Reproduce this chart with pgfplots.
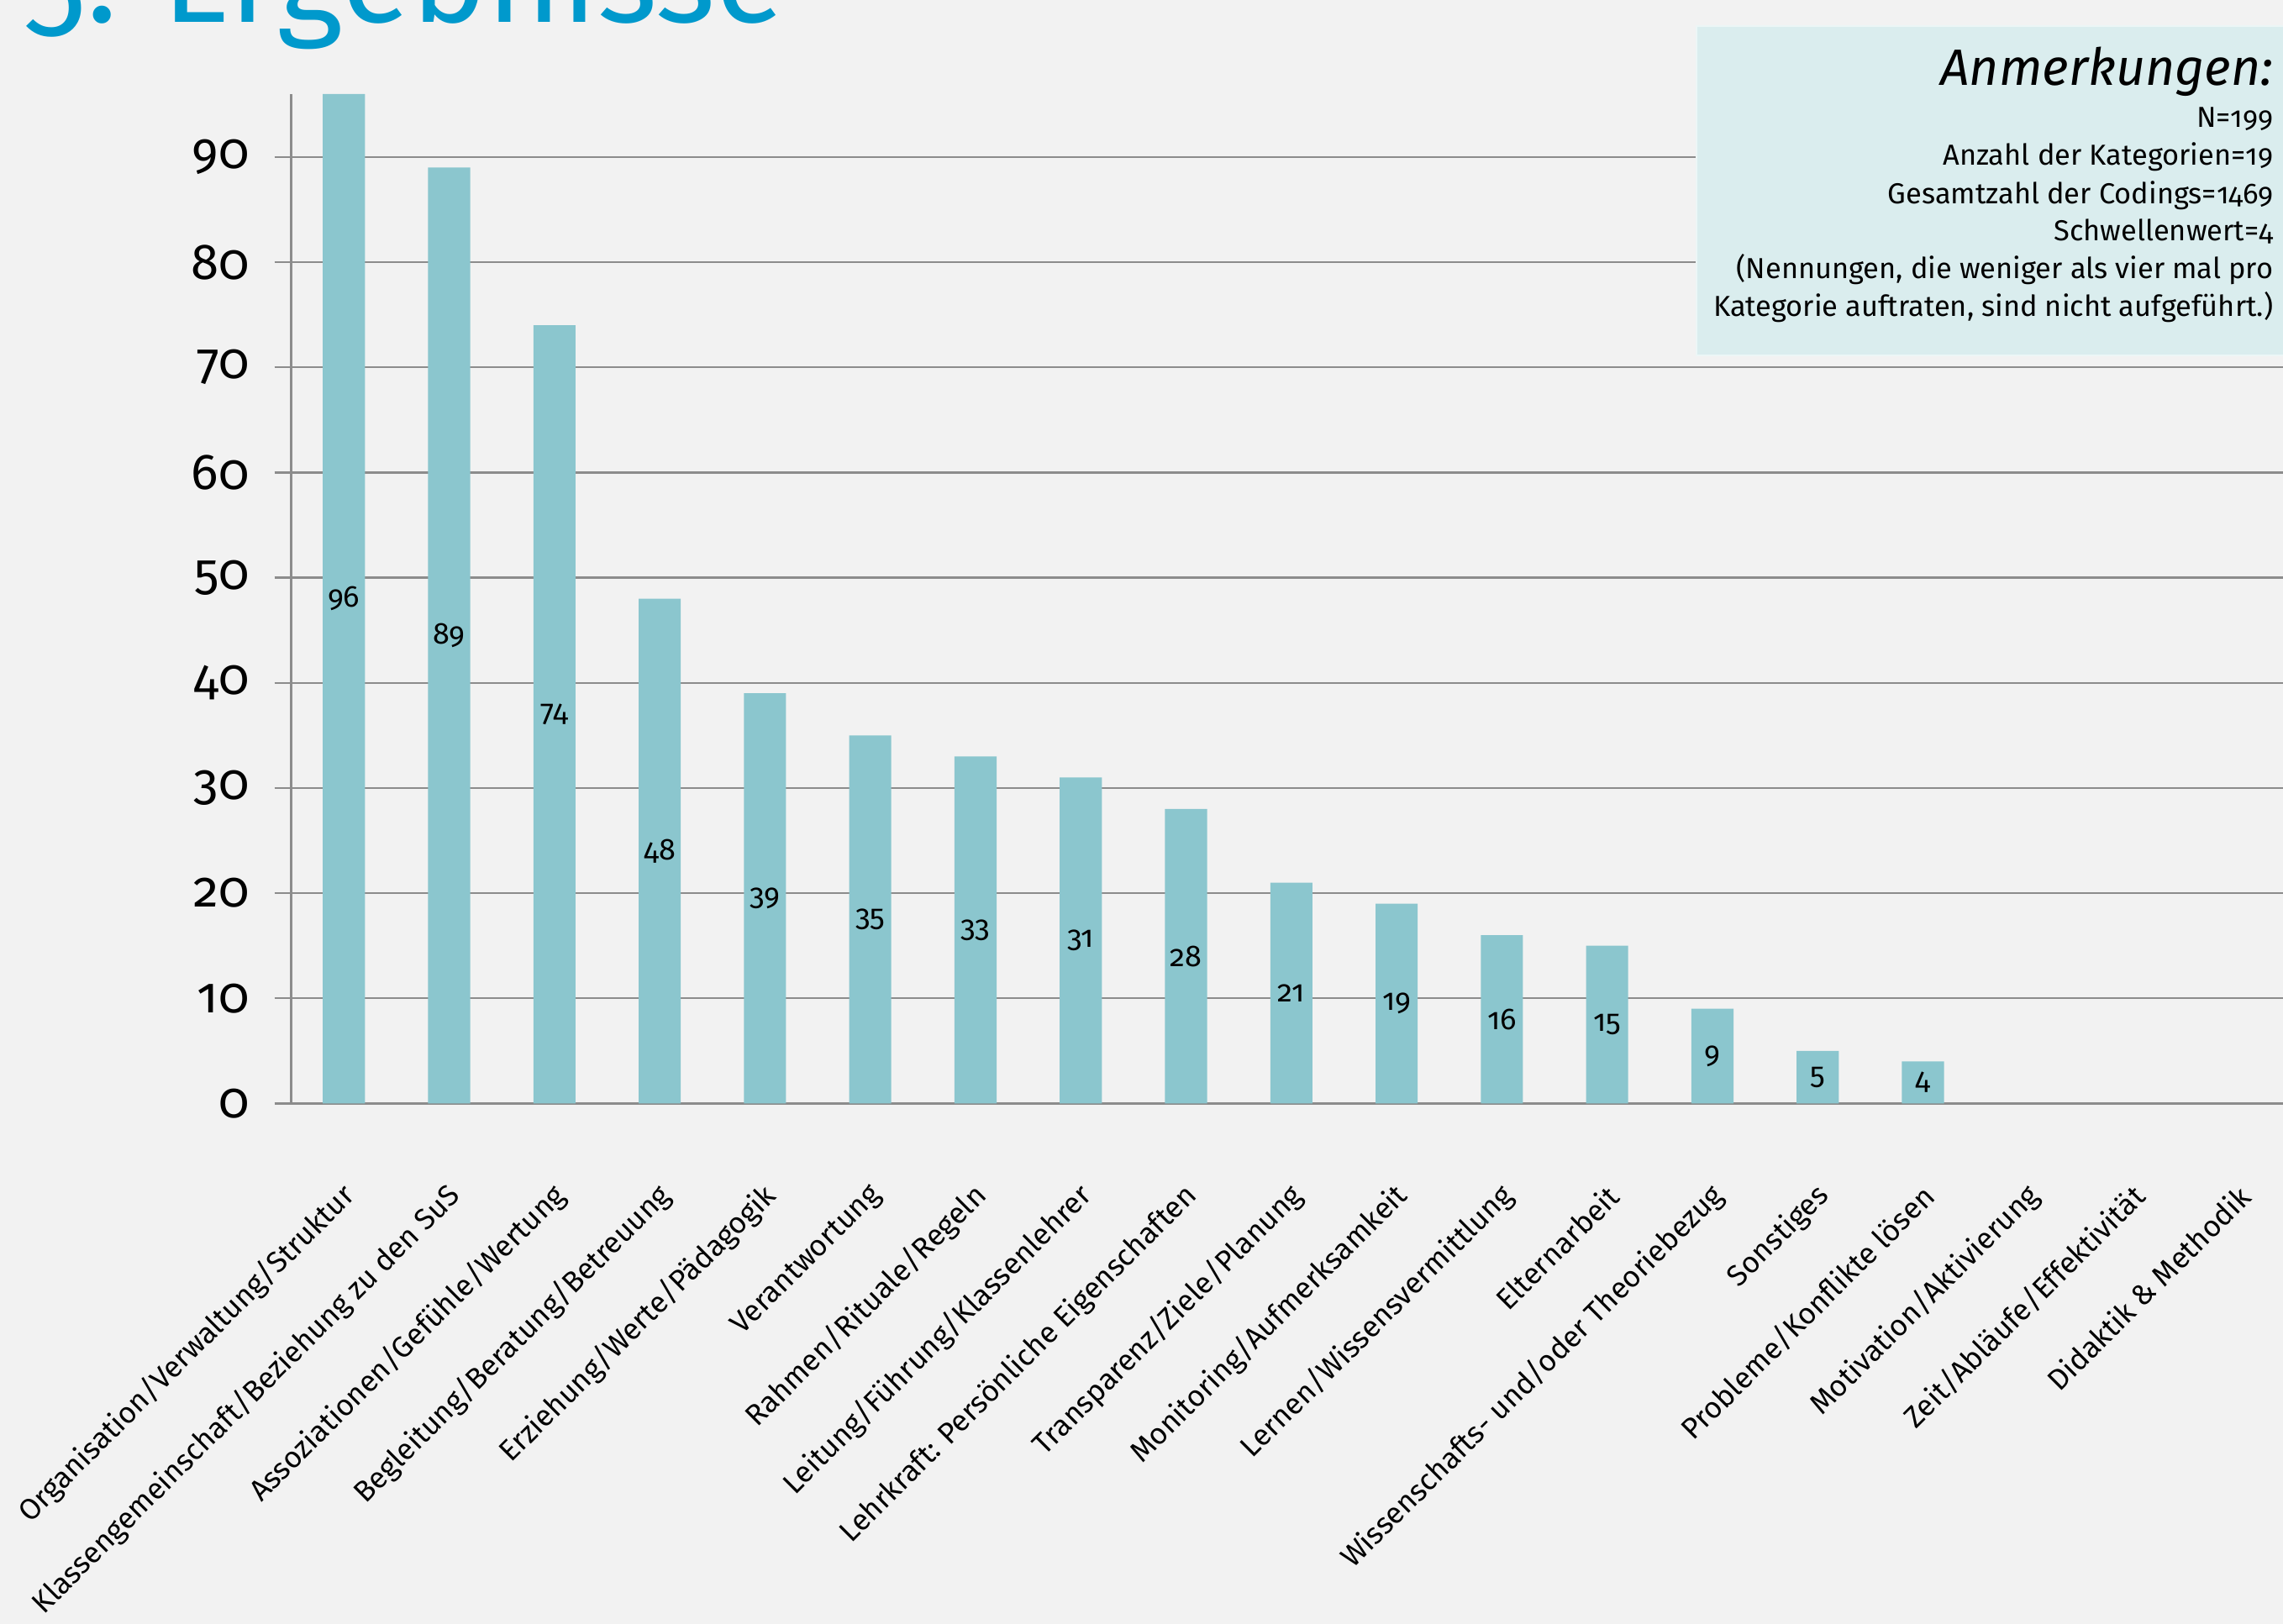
\documentclass[border=0pt]{standalone}
\usepackage{fontspec}
\setmainfont{Fira Sans}[Numbers=OldStyle]
\usepackage{pgfplots}
\usepackage{pgfplotstable}
\pgfplotsset{compat=1.18}
\definecolor{bg}{HTML}{F2F2F2}
\definecolor{barc}{HTML}{8BC6CE}
\definecolor{boxc}{HTML}{DAEDEE}
\definecolor{titlec}{HTML}{0099CC}
\definecolor{gridc}{HTML}{8C8C8C}

\pgfplotstableread{
x y
1 96
2 89
3 74
4 48
5 39
6 35
7 33
8 31
9 28
10 21
11 19
12 16
13 15
14 9
15 5
16 4
}\datatable

\begin{document}
\begin{tikzpicture}
\path[use as bounding box] (0,0) rectangle (679.25pt,483.25pt);
\clip (0,0) rectangle (679.25pt,483.25pt);
\fill[bg] (0,0) rectangle (679.25pt,483.25pt);
\begin{axis}[
  at={(86.65pt,154.9pt)}, anchor=south west,
  scale only axis, width=592.6pt, height=300.4pt,
  xmin=0.5, xmax=19.42, ymin=0, ymax=96,
  clip=false,
  axis x line*=bottom, axis y line*=left,
  axis line style={gridc, line width=0.8pt, -},
  /pgf/number format/assume math mode=true,
  ytick={0,10,...,90},
  ymajorgrids, grid style={gridc, line width=0.6pt},
  tick align=outside, major tick length=5pt,
  ytick style={gridc, line width=0.6pt},
  yticklabel style={font=\fontsize{15}{17}\selectfont, xshift=-4pt},
  xtick={1,...,19},
  xtick style={draw=none},
  xticklabels={Organisation/Verwaltung/Struktur,
    Klassengemeinschaft/Beziehung zu den SuS,
    Assoziationen/Gefühle/Wertung,
    Begleitung/Beratung/Betreuung,
    Erziehung/Werte/Pädagogik,
    Verantwortung,
    Rahmen/Rituale/Regeln,
    Leitung/Führung/Klassenlehrer,
    Lehrkraft: Persönliche Eigenschaften,
    Transparenz/Ziele/Planung,
    Monitoring/Aufmerksamkeit,
    Lernen/Wissensvermittlung,
    Elternarbeit,
    Wissenschafts- und/oder Theoriebezug,
    Sonstiges,
    Probleme/Konflikte lösen,
    Motivation/Aktivierung,
    Zeit/Abläufe/Effektivität,
    Didaktik \& Methodik},
  x tick label style={font=\fontsize{8.8}{10.5}\selectfont, xshift=2pt, yshift=-21pt, rotate=45, anchor=east, inner sep=0pt},
  extra x ticks={0.5,1.5,...,18.5},
  extra x tick labels={},
  extra x tick style={grid=none, tick style={draw=gridc, line width=0.6pt}},
]
\addplot[ybar, bar width=0.4, bar shift=0pt, fill=barc, draw=none] table[x=x, y=y] \datatable;
\addplot[draw=none, mark=none, nodes near coords, point meta=explicit,
  every node near coord/.append style={anchor=center, font=\fontsize{9}{10}\selectfont, text=black}]
  table[x=x, y expr=\thisrow{y}/2, meta=y] \datatable;
\end{axis}
\fill[boxc, draw=white!50!boxc, line width=0.6pt] (504.75pt,377.5pt) rectangle (690pt,475.5pt);
\node[anchor=base east, inner sep=0pt, font=\itshape\fontsize{15.2}{18}\selectfont] at (676.5pt,457.75pt) {Anmerkungen:};
\begin{scope}[every node/.style={anchor=base east, inner sep=0pt, font=\fontsize{8.6}{11}\selectfont}]
\node at (676.5pt,445.25pt) {N=199};
\node at (676.5pt,434pt) {Anzahl der Kategorien=19};
\node at (676.5pt,422.5pt) {Gesamtzahl der Codings=1469};
\node at (676.5pt,411.5pt) {Schwellenwert=4};
\node at (676.5pt,400.25pt) {(Nennungen, die weniger als vier mal pro};
\node at (676.5pt,389pt) {Kategorie auftraten, sind nicht aufgeführt.)};
\end{scope}
\node[anchor=base west, inner sep=0pt, text=titlec, font=\fontsize{38}{40}\selectfont] at (7pt,476.5pt) {5. Ergebnisse};
\end{tikzpicture}
\end{document}
